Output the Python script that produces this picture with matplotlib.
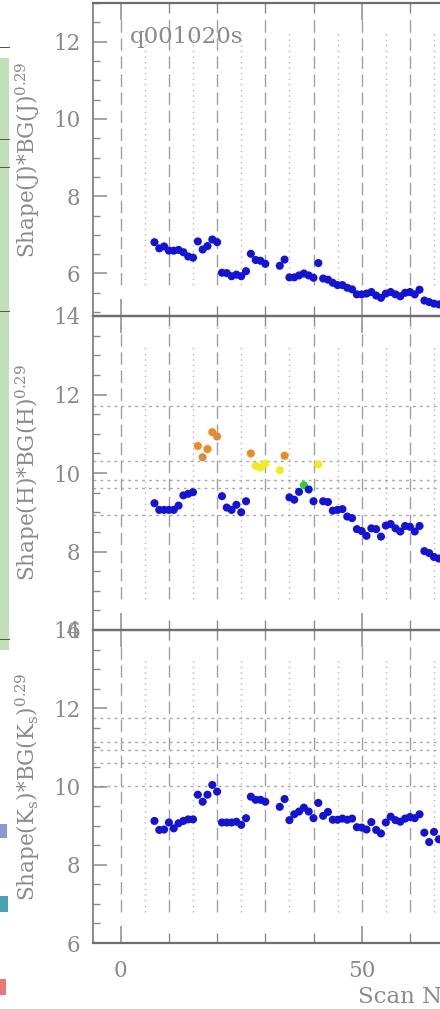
import matplotlib
matplotlib.use('Agg')
import matplotlib.pyplot as plt
from matplotlib.ticker import MultipleLocator
from matplotlib.patches import Rectangle

plt.rcParams['font.family'] = ['DejaVu Serif']
plt.rcParams['mathtext.fontset'] = 'dejavuserif'

# ---------------- data ----------------
scans = [7, 8, 9, 10, 11, 12, 13, 14, 15, 16, 17, 18, 19, 20, 21, 22, 23, 24, 25, 26,
         27, 28, 29, 30, 33, 34, 35, 36, 37, 38, 39, 40, 41, 42, 43, 44, 45, 46, 47, 48,
         49, 50, 51, 52, 53, 54, 55, 56, 57, 58, 59, 60, 61, 62, 63, 64, 65, 66]

shape_j = [6.81, 6.65, 6.70, 6.59, 6.59, 6.61, 6.55, 6.44, 6.41, 6.83, 6.62, 6.71, 6.88, 6.81,
           6.02, 6.01, 5.93, 5.97, 5.93, 6.06, 6.51, 6.35, 6.33, 6.25, 6.20, 6.36, 5.90, 5.90,
           5.95, 6.00, 5.95, 5.89, 6.27, 5.87, 5.84, 5.76, 5.70, 5.70, 5.63, 5.59, 5.46, 5.46,
           5.48, 5.52, 5.43, 5.37, 5.48, 5.52, 5.46, 5.41, 5.50, 5.52, 5.46, 5.58, 5.30, 5.26,
           5.22, 5.20]

shape_h = [9.23, 9.06, 9.06, 9.06, 9.06, 9.17, 9.43, 9.47, 9.51, 10.69, 10.40, 10.61, 11.04,
           10.93, 9.41, 9.12, 9.06, 9.19, 9.00, 9.28, 10.50, 10.18, 10.14, 10.24, 10.07, 10.44,
           9.38, 9.32, 9.52, 9.69, 9.58, 9.28, 10.22, 9.28, 9.26, 9.04, 9.06, 9.08, 8.89, 8.85,
           8.57, 8.52, 8.40, 8.59, 8.57, 8.38, 8.66, 8.70, 8.59, 8.51, 8.65, 8.63, 8.51, 8.65,
           8.01, 7.96, 7.86, 7.82]

# quality flag of each H point: b=blue, o=orange, t=tan, y=yellow, g=green
h_flag = ['b', 'b', 'b', 'b', 'b', 'b', 'b', 'b', 'b', 'o', 't', 'o', 'o', 't', 'b', 'b',
          'b', 'b', 'b', 'b', 'o', 'y', 'y', 'y', 'y', 'o', 'b', 'b', 'b', 'g', 'b', 'b',
          'y', 'b', 'b', 'b', 'b', 'b', 'b', 'b', 'b', 'b', 'b', 'b', 'b', 'b', 'b', 'b',
          'b', 'b', 'b', 'b', 'b', 'b', 'b', 'b', 'b', 'b']

shape_k = [9.12, 8.89, 8.90, 9.08, 8.93, 9.06, 9.12, 9.16, 9.16, 9.79, 9.61, 9.79, 10.04, 9.87,
           9.08, 9.08, 9.08, 9.10, 9.02, 9.19, 9.74, 9.66, 9.66, 9.61, 9.48, 9.68, 9.14, 9.29,
           9.36, 9.46, 9.36, 9.19, 9.58, 9.25, 9.35, 9.15, 9.15, 9.18, 9.15, 9.18, 8.96, 8.95,
           8.90, 9.09, 8.89, 8.80, 9.08, 9.23, 9.14, 9.10, 9.18, 9.22, 9.19, 9.29, 8.82, 8.58,
           8.84, 8.65]

ref_lines_j = []
ref_lines_h = [11.71, 10.31, 9.81, 9.62, 8.92]
ref_lines_k = [11.74, 11.13, 10.93, 10.60, 10.01]

scan_dashed = [0, 10, 20, 30, 40, 50, 60, 70]
scan_dotted = [5, 15, 25, 35, 45, 55, 65]

flag_colors = {'b': '#1212d8', 'o': '#f08a1e', 't': '#d98a40', 'y': '#f2ec1c', 'g': '#2ed22e'}

ylabels = [r'Shape(J)*BG(J)$^{0.29}$',
           r'Shape(H)*BG(H)$^{0.29}$',
           r'Shape(K$_{\rm s}$)*BG(K$_{\rm s}$)$^{0.29}$']
title_text = 'q001020s'
xlabel_text = 'Scan Number'

# ---------------- layout ----------------
W, H = 440, 1009
fig = plt.figure(figsize=(W / 100, H / 100), dpi=100)
GRAY = '#8a8a8a'
SPINE = '#6e6e6e'

left_px, right_px = 93, 470
x0 = -5.75
x1 = x0 + (right_px - left_px) / 4.82

panels = [
    dict(top=3, bottom=316, ylim=(4.9, 13.0), y=shape_j, ref=ref_lines_j),
    dict(top=316, bottom=630, ylim=(6, 14), y=shape_h, ref=ref_lines_h),
    dict(top=630, bottom=943, ylim=(6, 14), y=shape_k, ref=ref_lines_k),
]

# decorative remnant strip on the far left (from neighbouring page content)
fig.patches.append(Rectangle((0, 1 - 650 / H), 9 / W, (650 - 58) / H, transform=fig.transFigure,
                             facecolor='#c2e0b8', edgecolor='none', zorder=0))
for yy in [48, 140, 168, 312, 640]:
    fig.patches.append(Rectangle((0, 1 - yy / H), 10 / W, 1.2 / H, transform=fig.transFigure,
                                 facecolor='#555555', edgecolor='none', zorder=1))
fig.patches.append(Rectangle((0, 1 - 838 / H), 7 / W, 14 / H, transform=fig.transFigure,
                             facecolor='#3a56b0', edgecolor='none', alpha=0.6))
fig.patches.append(Rectangle((0, 1 - 912 / H), 8 / W, 16 / H, transform=fig.transFigure,
                             facecolor='#1c8aa0', edgecolor='none', alpha=0.8))
fig.patches.append(Rectangle((0, 1 - 995 / H), 6 / W, 16 / H, transform=fig.transFigure,
                             facecolor='#e04040', edgecolor='none', alpha=0.7))

axes = []
for i, p in enumerate(panels):
    ax = fig.add_axes([left_px / W, 1 - p['bottom'] / H, (right_px - left_px) / W,
                       (p['bottom'] - p['top']) / H])
    ax.set_xlim(x0, x1)
    ax.set_ylim(*p['ylim'])
    ax.patch.set_alpha(0)

    # vertical guide lines
    for xv in scan_dashed:
        ax.axvline(xv, ymin=0.1, ymax=0.965, color='#a0a0a0', lw=1.0,
                   dashes=(9, 4), zorder=1)
    for xv in scan_dotted:
        ax.axvline(xv, ymin=0.1, ymax=0.91, color='#b8b8b8', lw=1.0,
                   dashes=(1, 3), zorder=1)
    # horizontal reference lines
    for yv in p['ref']:
        ax.axhline(yv, color='#a8a8a8', lw=1.0, dashes=(2, 3), zorder=1)

    # points
    if i == 1:
        cols = [flag_colors[f] for f in h_flag]
        ax.scatter(scans, p['y'], s=34, c=cols, edgecolors='none', zorder=3)
    else:
        ax.scatter(scans, p['y'], s=34, c=flag_colors['b'], edgecolors='none', zorder=3)

    # spines
    ax.spines['right'].set_visible(False)
    ax.spines['left'].set_color(GRAY)
    ax.spines['left'].set_linewidth(1.4)
    for s in ['top', 'bottom']:
        ax.spines[s].set_color(SPINE)
        ax.spines[s].set_linewidth(1.6)

    # ticks
    ax.yaxis.set_major_locator(MultipleLocator(2))
    ax.yaxis.set_minor_locator(MultipleLocator(0.5))
    ax.xaxis.set_major_locator(MultipleLocator(50))
    ax.xaxis.set_minor_locator(MultipleLocator(10))
    ax.tick_params(axis='y', which='both', direction='in', left=True, right=False,
                   colors=GRAY, labelsize=15.5, pad=9)
    ax.tick_params(axis='y', which='major', length=10, width=1.1)
    ax.tick_params(axis='y', which='minor', length=5, width=1.0)
    ax.tick_params(axis='x', which='both', direction='in', top=True, bottom=True,
                   colors=GRAY, labelsize=15.5, pad=12)
    ax.tick_params(axis='x', which='major', length=12, width=1.1)
    ax.tick_params(axis='x', which='minor', length=7, width=1.0)
    if i < 2:
        ax.tick_params(axis='x', labelbottom=False)
    for lbl in ax.get_yticklabels() + ax.get_xticklabels():
        lbl.set_color(GRAY)

    # y label
    fig.text(28 / W, 1 - ((p['top'] + p['bottom']) / 2) / H, ylabels[i], rotation=90,
             ha='center', va='center', fontsize=15.5, color=GRAY)
    axes.append(ax)

fig.text(130 / W, 1 - 43 / H, title_text, ha='left', va='baseline', fontsize=16.5, color=GRAY)
fig.text(358 / W, 1 - 997 / H, xlabel_text, ha='left', va='center', fontsize=16.5, color=GRAY)

fig.savefig('out.png', dpi=100)
